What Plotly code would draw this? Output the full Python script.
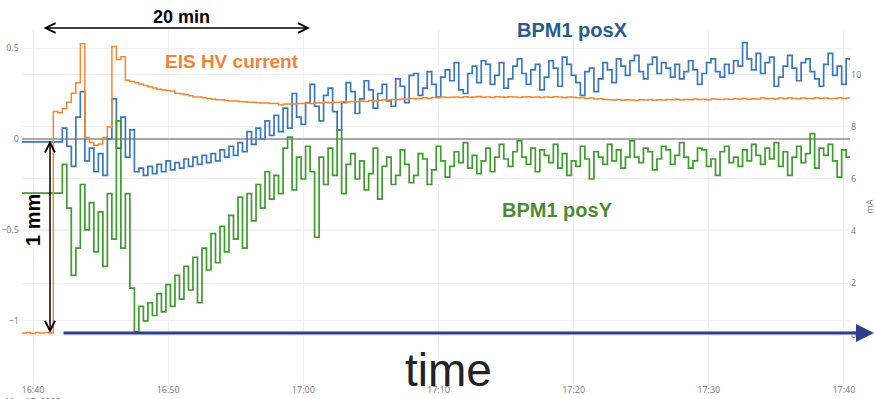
import pandas as pd
import plotly.graph_objects as go

# sample times (20 s spacing)
times = pd.date_range("2022-05-17 16:39:10", periods=185, freq="20s")

# BPM1 posX (mm, left axis)
pos_x = [-0.016]*9 + [
    0.06, -0.04, -0.15, 0.12, 0.26, -0.12, -0.05, -0.18, -0.08, -0.2,
    0.0, 0.22, -0.05, 0.12, -0.1, 0.05, -0.18, -0.16, -0.2, -0.15,
    -0.19, -0.14, -0.18, -0.12, -0.17, -0.13, -0.16, -0.11, -0.15, -0.1,
    -0.14, -0.09, -0.13, -0.08, -0.12, -0.06, -0.1, -0.04, -0.09, -0.02,
    -0.07, 0.04, -0.03, 0.06, 0.0, 0.1, 0.02, 0.13, 0.04, 0.17,
    0.06,
    0.25, 0.12, 0.08, 0.2, 0.3, 0.18, 0.1, 0.24, 0.28, 0.15,
    0.05, 0.2, 0.31, 0.26, 0.14, 0.22, 0.32, 0.27, 0.17, 0.25,
    0.3, 0.21, 0.18, 0.33, 0.29, 0.2, 0.35, 0.36, 0.24, 0.28,
    0.37, 0.3, 0.23, 0.34, 0.38, 0.32, 0.42, 0.27, 0.25, 0.36,
    0.4, 0.31, 0.43, 0.41, 0.3, 0.35, 0.42, 0.28, 0.33, 0.4,
    0.44, 0.36, 0.3, 0.38, 0.41, 0.27, 0.34, 0.43, 0.39, 0.29,
    0.45, 0.41, 0.35, 0.31, 0.24, 0.37, 0.39, 0.26, 0.33, 0.42,
    0.38, 0.31, 0.44, 0.4, 0.35, 0.43, 0.46, 0.37, 0.33, 0.41,
    0.45, 0.36, 0.42, 0.39, 0.34, 0.41, 0.33, 0.37, 0.43, 0.38,
    0.3, 0.36, 0.42, 0.44, 0.37, 0.34, 0.41, 0.36, 0.43, 0.4,
    0.53, 0.44, 0.38, 0.47, 0.36, 0.42, 0.45, 0.29, 0.34, 0.4,
    0.46, 0.39, 0.32, 0.42, 0.44, 0.37, 0.33, 0.29, 0.41, 0.47,
    0.35, 0.4, 0.3, 0.44, 0.4]

# BPM1 posY (mm, left axis)
pos_y = [-0.297]*9 + [
    -0.14, -0.38, -0.75, -0.6, -0.25, -0.5, -0.35, -0.62, -0.4, -0.7,
    -0.3, -0.55, 0.1, -0.6, -0.3, -0.82, -1.06, -0.92, -1.0, -0.9,
    -0.97, -0.85, -0.95, -0.8, -0.92, -0.75, -0.88, -0.7, -0.83, -0.65,
    -0.9, -0.6, -0.72, -0.52, -0.68, -0.48, -0.62, -0.42, -0.55, -0.32,
    -0.6, -0.3, -0.45, -0.25, -0.38, -0.18, -0.33, -0.2, -0.3, -0.05,
    0.01, -0.28, -0.1, -0.22, -0.04, -0.18, -0.54, -0.1, -0.25, -0.05,
    -0.2,
    0.05, -0.3, -0.14, -0.08, -0.22, -0.12, -0.28, -0.19, -0.05, -0.33,
    -0.15, -0.1, -0.25, -0.2, -0.06, -0.14, -0.24, -0.2, -0.08, -0.11,
    -0.25, -0.17, -0.04, -0.12, -0.21, -0.15, -0.07, -0.13, -0.02, -0.16,
    -0.09, -0.19, -0.12, -0.05, -0.18, -0.1, -0.03, -0.11, -0.15, -0.07,
    -0.01, -0.1, -0.14, -0.05, -0.18, -0.06, -0.09, -0.13, -0.03, -0.16,
    -0.08, -0.2, -0.12, -0.15, -0.04, -0.11, -0.22, -0.07, -0.1, -0.14,
    -0.03, -0.12, -0.06, -0.16, -0.1, -0.01, -0.1, -0.13, -0.05, -0.07,
    -0.17, -0.11, -0.04, -0.06, -0.14, -0.09, -0.02, -0.1, -0.16, -0.12,
    -0.05, -0.06, -0.15, -0.11, -0.2, -0.07, -0.04, -0.13, -0.1, -0.15,
    -0.06, -0.12, -0.03, -0.09, -0.14, -0.05, -0.11, -0.02, -0.15, -0.07,
    -0.2, -0.1, -0.04, -0.13, -0.08, 0.03, -0.16, -0.05, -0.09, -0.03,
    -0.12, -0.21, -0.06, -0.1, -0.09]

# EIS HV current (mA, right axis)
hv_current = [0.08, 0.1, 0.06, 0.1, 0.08, 0.1, 0.08] + [
    8.6, 8.55, 8.7, 8.95, 9.3, 9.7, 11.2, 7.6, 7.4, 7.3,
    7.35, 7.6, 8.0, 11.1, 10.6, 10.7, 9.8, 9.75, 9.7, 9.65,
    9.6, 9.55, 9.5, 9.45, 9.42, 9.4, 9.38, 9.3, 9.28, 9.25,
    9.2, 9.15, 9.15, 9.12, 9.1, 9.08, 9.05, 9.05, 9.02, 9.0,
    9.0, 8.98, 8.97, 8.95, 8.95, 8.93, 8.92, 8.92, 8.9, 8.9,
    8.85, 8.88, 8.88, 8.88, 8.9, 8.9, 8.92, 8.9, 8.92, 8.92,
    8.95, 8.93, 8.95, 8.95, 8.97, 8.96, 8.98, 8.97, 9.0, 8.98,
    9.02, 9.0, 9.03, 9.05, 9.04, 9.06, 9.05, 9.08, 9.07, 9.1,
    9.09, 9.1, 9.12, 9.1, 9.13, 9.12, 9.15, 9.13, 9.14, 9.15,
    9.13, 9.16, 9.14, 9.15, 9.17, 9.14, 9.15, 9.13, 9.16, 9.15,
    9.14, 9.16, 9.15, 9.13, 9.15, 9.16, 9.14, 9.15, 9.13, 9.15,
    9.14, 9.16, 9.15, 9.12, 9.15, 9.14, 9.12, 9.13, 9.1, 9.11,
    9.08, 9.09, 9.06, 9.05, 9.04, 9.06, 9.03, 9.05, 9.04, 9.02,
    9.05, 9.04, 9.06, 9.03, 9.05, 9.04, 9.06, 9.05, 9.07, 9.04,
    9.06, 9.05, 9.08, 9.06, 9.07, 9.05, 9.08, 9.07, 9.06, 9.08,
    9.07, 9.09, 9.08, 9.1, 9.07, 9.09, 9.08, 9.12, 9.09, 9.1,
    9.08, 9.11, 9.09, 9.12, 9.1, 9.09, 9.11, 9.1, 9.1, 9.12,
    9.1, 9.11, 9.09, 9.1, 9.12, 9.1, 9.11, 9.1]

x_range = ["2022-05-17 16:39:11", "2022-05-17 17:40:27"]
left_range = [-1.341, 0.599]
right_range = [-1.846, 11.73]

W, H = 876, 399
ML, MR, MT, MB = 22, 26, 30, 16


def px(x):
    return (x - ML) / (W - ML - MR)


def py(y):
    return (H - MB - y) / (H - MT - MB)


fig = go.Figure()
fig.add_trace(go.Scatter(x=times, y=hv_current, yaxis="y2", mode="lines",
                         line=dict(color="#f7872f", width=1.5, shape="hv"),
                         name="EIS HV current"))
fig.add_trace(go.Scatter(x=times, y=pos_x, mode="lines",
                         line=dict(color="#3a78bb", width=1.7, shape="hv"),
                         name="BPM1 posX"))
fig.add_trace(go.Scatter(x=times, y=pos_y, mode="lines",
                         line=dict(color="#3f9a2f", width=1.7, shape="hv"),
                         name="BPM1 posY"))

tickfont = dict(family="Open Sans", size=9, color="#777")
grid = "#edf1f5"

fig.update_layout(
    width=W, height=H, margin=dict(l=ML, r=MR, t=MT, b=MB),
    paper_bgcolor="white", plot_bgcolor="white", showlegend=False,
    xaxis=dict(range=x_range, type="date", tick0="2022-05-17 16:40",
               dtick=600000, showgrid=True, gridcolor=grid, tickfont=tickfont,
               showline=False, zeroline=False, automargin=False, ticks=""),
    yaxis=dict(range=left_range, dtick=0.5, showgrid=True, gridcolor=grid,
               zeroline=True, zerolinecolor="#a8a8a8", zerolinewidth=1.5,
               tickfont=tickfont, automargin=False, ticklabelstandoff=2),
    yaxis2=dict(range=right_range, dtick=2, overlaying="y", side="right",
                showgrid=True, gridcolor=grid, zeroline=False,
                tickfont=tickfont, automargin=False,
                title=dict(text="mA", font=dict(family="Open Sans", size=9, color="#777"),
                           standoff=8)),
)

bold = "Liberation Sans"
C = dict(xanchor="center", yanchor="middle", xref="paper", yref="paper")
ann = []
# 20 min arrow
ann.append(dict(**C, x=px(310), y=py(28), ax=-268, ay=0,
                text="", showarrow=True, arrowside="end+start", arrowhead=5,
                startarrowhead=5, arrowsize=1.3, startarrowsize=1.3,
                arrowwidth=1.5, arrowcolor="black"))
ann.append(dict(**C, x=px(181), y=py(17),
                text="<b>20 min</b>", showarrow=False,
                font=dict(family=bold, size=18, color="black")))
# 1 mm arrow
ann.append(dict(**C, x=px(50), y=py(333), ax=0, ay=-194,
                text="", showarrow=True, arrowside="end+start", arrowhead=5,
                startarrowhead=5, arrowsize=1.3, startarrowsize=1.3,
                arrowwidth=1.5, arrowcolor="black"))
ann.append(dict(**C, x=px(33), y=py(220),
                text="<b>1 mm</b>", showarrow=False, textangle=-90,
                font=dict(family=bold, size=20, color="black")))
# time arrow
ann.append(dict(**C, x=px(874), y=py(333), ax=-812, ay=0,
                text="", showarrow=True, arrowhead=2, arrowsize=1.2,
                arrowwidth=3, arrowcolor="#2f3f8c"))
ann.append(dict(**C, x=px(449), y=py(370),
                text="time", showarrow=False,
                font=dict(family="Liberation Sans", size=46, color="#222")))
# series labels
ann.append(dict(**C, x=px(232), y=py(61),
                text="<b>EIS HV current</b>", showarrow=False,
                font=dict(family=bold, size=19, color="#f0843a")))
ann.append(dict(**C, x=px(572), y=py(30),
                text="<b>BPM1 posX</b>", showarrow=False,
                font=dict(family=bold, size=20, color="#2b5b8a")))
ann.append(dict(**C, x=px(557), y=py(210),
                text="<b>BPM1 posY</b>", showarrow=False,
                font=dict(family=bold, size=20, color="#4d8a34")))
fig.update_layout(annotations=ann)

fig.write_html("out.html")
